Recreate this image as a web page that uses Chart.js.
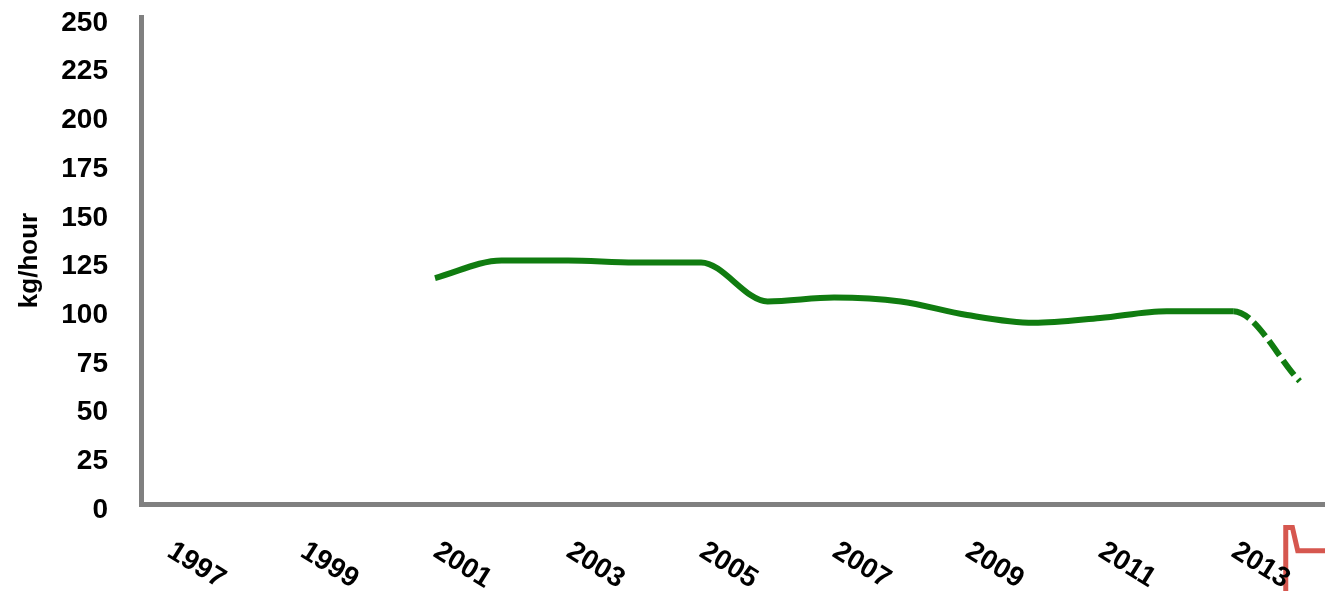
<!DOCTYPE html>
<html>
<head>
<meta charset="utf-8">
<script src="https://cdn.jsdelivr.net/npm/chart.js@4"></script>
<style>
  body { margin: 0; background: #fff; }
  canvas { display: block; }
</style>
</head>
<body>
<canvas id="chart" width="1325" height="591"></canvas>
<script>
// values
const years = [1997, 1998, 1999, 2000, 2001, 2002, 2003, 2004, 2005, 2006, 2007, 2008, 2009, 2010, 2011, 2012, 2013, 2014];
const values = [null, null, null, null, 116, 125, 125, 124, 124, 104, 106, 104, 97, 93, 95.5, 99, 99, 63];
const tickYears = [1997, 1999, 2001, 2003, 2005, 2007, 2009, 2011, 2013];
const yTicks = [0, 25, 50, 75, 100, 125, 150, 175, 200, 225, 250];
// red fragment at the bottom right corner
const redX = [2013.78, 2013.79, 2013.89, 2013.97, 2014.4];
const redY = [-46, -12, -12, -24, -24];

const FONT = "'Liberation Sans', Arial, sans-serif";

const rotatedLabels = {
  id: "rotatedLabels",
  afterDraw(chart) {
    const ctx = chart.ctx;
    const xs = chart.scales.x;
    ctx.save();
    ctx.fillStyle = "#000";
    ctx.font = "bold 28px " + FONT;
    ctx.textAlign = "left";
    ctx.textBaseline = "middle";
    tickYears.forEach(y => {
      const px = xs.getPixelForValue(y);
      ctx.save();
      ctx.translate(px + 1, 549);
      ctx.rotate(32 * Math.PI / 180);
      ctx.fillText(String(y), 0, 0);
      ctx.restore();
    });
    ctx.restore();
  }
};

const ctx = document.querySelector("#chart");

new Chart(ctx, {
  type: "line",
  data: {
    datasets: [
      {
        label: "kg/hour",
        data: years.map((y, i) => ({ x: y, y: values[i] })),
        borderColor: "#107c10",
        borderWidth: 6,
        pointRadius: 0,
        cubicInterpolationMode: "monotone",
        spanGaps: false,
        segment: {
          borderDash: c => c.p0.parsed.x >= 2013 ? [18, 6] : undefined
        }
      },
      {
        label: "",
        data: redX.map((x, i) => ({ x: x, y: redY[i] })),
        borderColor: "#d6574f",
        borderWidth: 5,
        pointRadius: 0,
        tension: 0,
        clip: false
      }
    ]
  },
  options: {
    responsive: false,
    animation: false,
    layout: { padding: { top: 17, left: 0, right: 0, bottom: 0 } },
    plugins: {
      legend: { display: false },
      tooltip: { enabled: false }
    },
    scales: {
      x: {
        type: "linear",
        min: 1996.58,
        max: 2014.38,
        grid: { display: false, drawTicks: false },
        border: { color: "#808080", width: 5 },
        ticks: { display: false },
        afterFit: s => {
          s.height = 87;
          s.paddingLeft = 0; s.paddingRight = 0;
        }
      },
      y: {
        min: 0,
        max: 250,
        afterBuildTicks: s => { s.ticks = yTicks.map(v => ({ value: v })); },
        grid: { display: false, drawTicks: false },
        border: { color: "#808080", width: 5 },
        ticks: {
          color: "#000",
          font: { family: FONT, size: 28, weight: "bold" },
          padding: 33,
          labelOffset: 6
        },
        title: {
          display: true,
          text: "kg/hour",
          color: "#000",
          font: { family: FONT, size: 26, weight: "bold" },
          padding: 14
        },
        afterFit: s => {
          s.width = 141;
          s.paddingTop = 0; s.paddingBottom = 0;
        }
      }
    }
  },
  plugins: [rotatedLabels]
});
</script>
</body>
</html>
